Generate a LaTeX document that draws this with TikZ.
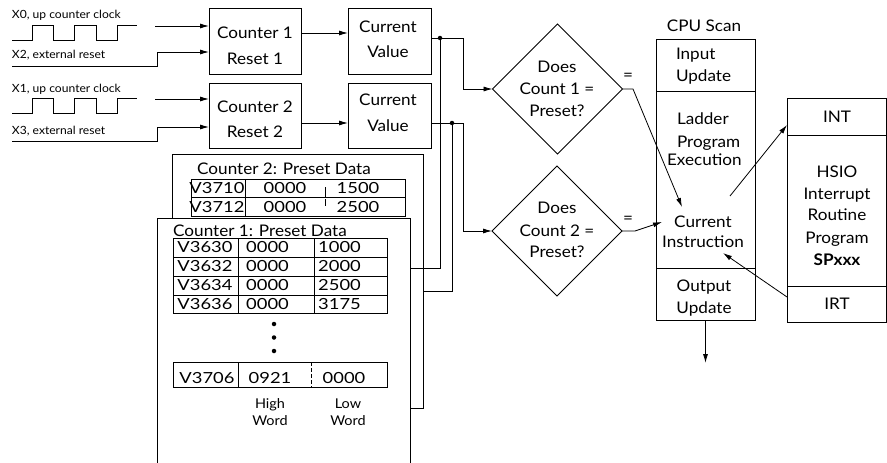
\documentclass[tikz,border=0pt]{standalone}
\usepackage{fontspec}
\setmainfont[FakeStretch=1.07]{Lato}
\newfontfamily\widefont[FakeStretch=1.2]{Lato}
\usetikzlibrary{arrows.meta,shapes.geometric,calc}
\begin{document}
\begin{tikzpicture}[x=1pt,y=-1pt,line width=0.8pt,
  box/.style={draw,rectangle,inner sep=0pt,outer sep=0pt},
  T/.style={inner sep=0pt,outer sep=0pt,anchor=base,font=\fontsize{16}{19}\selectfont},
  TW/.style={inner sep=0pt,outer sep=0pt,anchor=base west,font=\fontsize{16}{19}\selectfont},
  S/.style={inner sep=0pt,outer sep=0pt,anchor=base west,font=\fontsize{11.3}{13}\selectfont},
  D/.style={inner sep=0pt,outer sep=0pt,anchor=base,font=\widefont\fontsize{15.3}{18}\selectfont},
  DT/.style={inner sep=0pt,outer sep=0pt,anchor=base,font=\fontsize{16}{19}\selectfont},
  W/.style={inner sep=0pt,outer sep=0pt,anchor=base,font=\fontsize{13.5}{15}\selectfont},
  arr/.style={-{Latex[length=9pt,width=5pt]}},
  dia/.style={draw,diamond,shape aspect=1,inner sep=0pt,outer sep=0pt,minimum width=130pt,minimum height=130pt},
  jdot/.style={circle,fill,inner sep=0pt,outer sep=0pt,minimum size=4.5pt}]
\useasboundingbox (0,0) rectangle (887,463);
\clip (0,0) rectangle (887,463);
\fill[white] (0,0) rectangle (887,463);

% ---------- inputs ----------
\node[S] (l0) at (12,18) {X0, up counter clock};
\node[S] (l2) at (12,58) {X2, external reset};
\node[S] (l1) at (12,92) {X1, up counter clock};
\node[S] (l3) at (12,134) {X3, external reset};
\draw (12,40) -- (32,40) -- (32,25) -- (53,25) -- (53,40) -- (74,40) -- (74,25) -- (96,25) -- (96,40) -- (117,40) -- (117,25) -- (137,25);
\draw (12,113) -- (32,113) -- (32,98) -- (53,98) -- (53,113) -- (74,113) -- (74,98) -- (96,98) -- (96,113) -- (117,113) -- (117,98) -- (137,98);

% ---------- counters ----------
\node[box,minimum width=92pt,minimum height=66pt] (c1) at (255,41) {};
\node[T] (c1a) at (255,38) {Counter 1};
\node[T] (c1b) at (255,64) {Reset 1};
\node[box,minimum width=92pt,minimum height=65pt] (c2) at (255,115.5) {};
\node[T] (c2a) at (255,112) {Counter 2};
\node[T] (c2b) at (255,137) {Reset 2};

\coordinate (a0) at (155,26);
\coordinate (a1) at (155,99);
\coordinate (r2) at (12,66);
\coordinate (r3) at (12,141);
\draw[arr] (a0) -- (a0 -| c1.west);
\draw[arr] (r2) -- (157,66) -- (157,52) -- (c1.west |- 0,52);
\draw[arr] (a1) -- (a1 -| c2.west);
\draw[arr] (r3) -- (157,141) -- (157,127) -- (c2.west |- 0,127);

% ---------- current values ----------
\node[box,minimum width=83pt,minimum height=66pt] (v1) at (389.5,41) {};
\node[T] (v1a) at (388,32) {Current};
\node[T] (v1b) at (388,57) {Value};
\node[box,minimum width=83pt,minimum height=65pt] (v2) at (389.5,115.5) {};
\node[T] (v2a) at (388,105) {Current};
\node[T] (v2b) at (388,131) {Value};
\draw[arr] (c1.east |- 0,33) -- (v1.west |- 0,33);
\draw[arr] (c2.east |- 0,123) -- (v2.west |- 0,123);

% ---------- preset data ----------
\node[box,minimum width=251pt,minimum height=254pt] (p2) at (297.5,281) {};
\node[DT] (p2t) at (284,174) {Counter 2: Preset Data};
\node[box,minimum width=214pt,minimum height=18pt] (r21) at (298,188) {};
\node[box,minimum width=214pt,minimum height=19pt] (r22) at (298,206.5) {};
\draw (245,179) -- (245,216);
\draw (325,187) -- (325,197);
\draw (325,199) -- (325,206);
\node[D] at (217,193) {V3710};
\node[D] at (285,193) {0000};
\node[D] at (358,193) {1500};
\node[D] at (217,212) {V3712};
\node[D] at (285,212) {0000};
\node[D] at (358,212) {2500};

\node[box,fill=white,minimum width=253pt,minimum height=262pt] (p1) at (283.5,349) {};
\node[DT] (p1t) at (260,236) {Counter 1: Preset Data};
\node[box,minimum width=214pt,minimum height=75pt] (t1) at (280,275.5) {};
\draw (t1.west |- 0,257) -- (t1.east |- 0,257);
\draw (t1.west |- 0,276) -- (t1.east |- 0,276);
\draw (t1.west |- 0,295) -- (t1.east |- 0,295);
\draw (238,238) -- (238,313);
\draw (314,238) -- (314,313);
\foreach \y/\a/\b/\c in {252/V3630/0000/1000,271/V3632/0000/2000,290/V3634/0000/2500,309/V3636/0000/3175}{
  \node[D] at (205,\y) {\a};
  \node[D] at (267.5,\y) {\b};
  \node[D] at (339.5,\y) {\c};
}
\node[jdot] (dd1) at (274,324) {};
\node[jdot] (dd2) at (274,337.5) {};
\node[jdot] (dd3) at (274,351) {};
\node[box,minimum width=214pt,minimum height=25pt] (t9) at (280,374.5) {};
\draw (238,362) -- (238,387);
\draw[dash pattern=on 4pt off 2pt] (311,362) -- (311,387);
\node[D] at (207,383) {V3706};
\node[D] at (270,383) {0921};
\node[D] at (344,383) {0000};
\node[W] (hw1) at (270,408) {High};
\node[W] (hw2) at (270,425) {Word};
\node[W] (lw1) at (348,408) {Low};
\node[W] (lw2) at (348,425) {Word};

% ---------- junctions ----------
\node[jdot] (j1) at (440,38) {};
\node[jdot] (j2) at (452,123) {};

% ---------- diamonds ----------
\node[dia] (d1) at (557.5,89) {};
\node[T] at (557,72) {Does};
\node[T] at (557,94) {Count 1 =};
\node[T] at (557,116) {Preset?};
\node[dia] (d2) at (557,231) {};
\node[T] at (557,213) {Does};
\node[T] at (557,236) {Count 2 =};
\node[T] at (557,257) {Preset?};

\draw[arr] (v1.east |- j1) -- (463,38) |- (d1.west);
\draw[arr] (v2.east |- j2) -- (463,123) |- (d2.west);
\draw (j1) |- (p1.east |- 0,268);
\draw (j2) |- (p2.east |- 0,291);

% ---------- CPU scan ----------
\node[T] (cpu_t) at (704,31) {CPU Scan};
\node[box,minimum width=99pt,minimum height=281pt] (cpu) at (705.5,179.5) {};
\draw (cpu.west |- 0,91) -- (cpu.east |- 0,91);
\draw (cpu.west |- 0,268) -- (cpu.east |- 0,268);
\node[TW] at (676,59) {Input};
\node[TW] at (676,81) {Update};
\node[TW] at (677,124) {Ladder};
\node[TW] at (677,147) {Program};
\node[TW] at (667,165) {Execution};
\node[T] (ci1) at (703,227) {Current};
\node[T] (ci2) at (703,247) {Instruction};
\node[T] at (704,291) {Output};
\node[T] at (704,313) {Update};

\node[T] (eq1) at (628,80) {=};
\node[T] (eq2) at (628,223) {=};
\coordinate (tA) at (682,207);
\coordinate (tB) at (662,222);
\coordinate (tC) at (723,253);
\coordinate (sI) at (730,196);
\draw[arr] (d1.east) -- (633,89) -- (tA);
\draw[arr] (d2.east) -- (635,231) -- (tB);
\draw[arr] (cpu.south) -- ++(0,43);

% ---------- HSIO ----------
\node[box,minimum width=99pt,minimum height=224pt] (hs) at (836.5,210) {};
\draw (hs.west |- 0,135) -- (hs.east |- 0,135);
\draw (hs.west |- 0,286) -- (hs.east |- 0,286);
\node[T] at (837,122) {INT};
\node[T] at (837,177) {HSIO};
\node[T] at (837,199) {Interrupt};
\node[T] at (837,220) {Routine};
\node[T] at (837,243) {Program};
\node[T] at (837,265) {\bfseries SPxxx};
\node[T] at (837,309) {IRT};
\draw[arr] (sI) -- (hs.west |- 0,125);
\draw[arr] (hs.west |- 0,297) -- (tC);
\end{tikzpicture}
\end{document}
